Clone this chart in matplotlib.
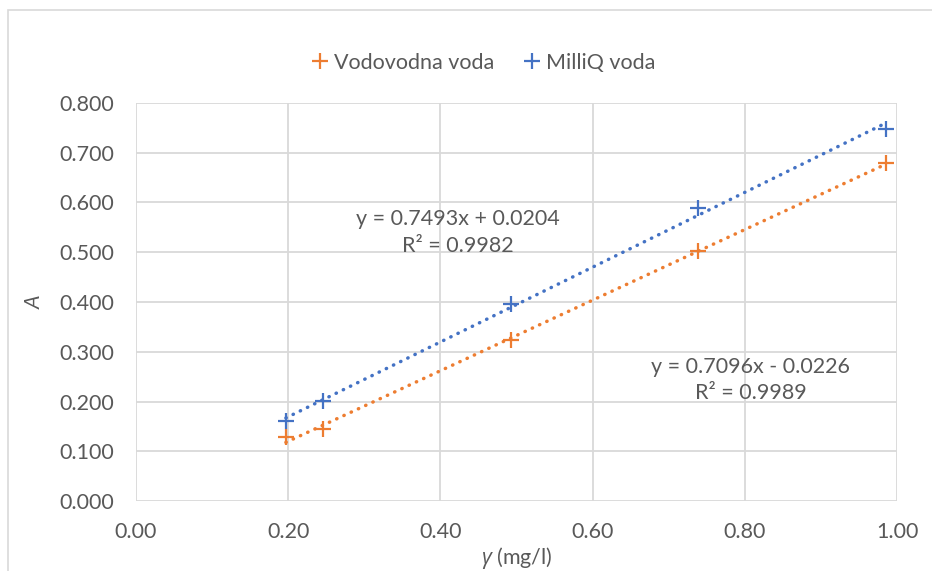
import numpy as np
import matplotlib
matplotlib.use('Agg')
from matplotlib import pyplot as plt
from matplotlib.patches import Rectangle

# Data
conc = [0.197, 0.246, 0.493, 0.739, 0.986]
a_tap = [0.128, 0.145, 0.323, 0.502, 0.680]
a_milliq = [0.161, 0.201, 0.396, 0.589, 0.748]
series_names = ['Vodovodna voda', 'MilliQ voda']
eq_tap = 'y = 0.7096x - 0.0226\nR² = 0.9989'
eq_milliq = 'y = 0.7493x + 0.0204\nR² = 0.9982'

orange = '#ED7D31'
blue = '#4472C4'
grey_txt = '#595959'
grid_c = '#D9D9D9'

plt.rcParams['font.family'] = ['Lato', 'DejaVu Sans']
plt.rcParams['mathtext.fontset'] = 'custom'
plt.rcParams['mathtext.it'] = 'Open Sans:italic'
plt.rcParams['mathtext.rm'] = 'Open Sans'

fig = plt.figure(figsize=(9.32, 5.71), dpi=100)
ax = fig.add_axes([136/932, 1-501/571, (897-136)/932, (501-103)/571])

# chart area border
fig.patches.append(Rectangle((8/932, -0.1), 1.2, 1-10/571+0.1, transform=fig.transFigure,
                             fill=False, ec=grid_c, lw=1.2))

fs = 15.5

for ys, col, name in [(a_tap, orange, series_names[0]), (a_milliq, blue, series_names[1])]:
    x = np.array(conc)
    y = np.array(ys)
    k, n = np.polyfit(x, y, 1)
    xs = np.array([x.min(), x.max()])
    ax.plot(xs, k*xs + n, color=col, lw=2.5, linestyle=(0, (0.1, 2.2)),
            dash_capstyle='round', zorder=2)
    ax.plot(x, y, linestyle='none', marker='+', ms=12, mew=1.6, color=col,
            label=name, zorder=3)

ax.text(0.423, 0.540, eq_milliq, ha='center', va='center', fontsize=fs,
        color=grey_txt, linespacing=1.45)
ax.text(0.808, 0.243, eq_tap, ha='center', va='center', fontsize=fs,
        color=grey_txt, linespacing=1.4)

ax.set_xlim(0, 1)
ax.set_ylim(0, 0.8)
ax.set_xticks(np.arange(0, 1.01, 0.2))
ax.set_yticks(np.arange(0, 0.801, 0.1))
ax.set_xticklabels(['%.2f' % v for v in np.arange(0, 1.01, 0.2)])
ax.set_yticklabels(['%.3f' % v for v in np.arange(0, 0.801, 0.1)])
ax.tick_params(length=0, labelsize=fs, labelcolor=grey_txt)
ax.tick_params(axis='y', pad=16)
ax.tick_params(axis='x', pad=15)
ax.grid(True, color=grid_c, lw=1.3)
ax.set_axisbelow(True)
for s in ax.spines.values():
    s.set_visible(False)

ax.set_xlabel(r'$\mathit{\gamma}$ (mg/l)', fontsize=fs, color=grey_txt, labelpad=2)
ax.set_ylabel('A', fontsize=fs, color=grey_txt, style='italic', labelpad=10)

fig.legend(loc='center', bbox_to_anchor=(484/932, 1-63/571), ncol=2, frameon=False,
           fontsize=fs, labelcolor=grey_txt, handlelength=0.7, handletextpad=0.3,
           columnspacing=1.4)

fig.savefig('out.png', dpi=100)
